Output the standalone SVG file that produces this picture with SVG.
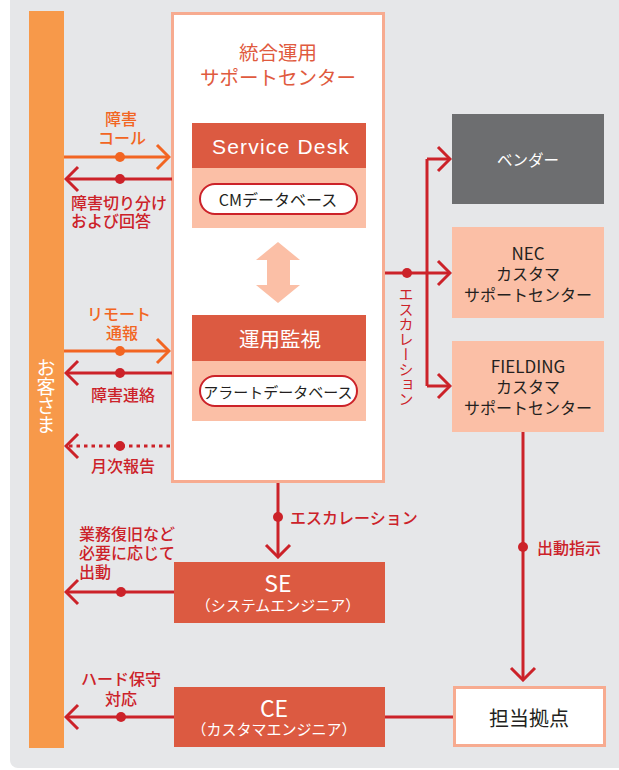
<svg xmlns="http://www.w3.org/2000/svg" width="619" height="770" viewBox="0 0 619 770">
<defs>
<style>
text{font-family:"Noto Sans CJK JP","Noto Sans",sans-serif;font-weight:400;}
.lat{font-family:"Liberation Sans","Noto Sans CJK JP",sans-serif;}
.red{stroke:#cc2229;stroke-width:3;fill:none;}
.org{stroke:#f26522;stroke-width:3;fill:none;}
.dotr{fill:#cc2229;}
.doto{fill:#f26522;}
.lr{fill:#cc2229;font-size:16px;font-weight:500;}
.lo{fill:#f26522;font-size:16px;font-weight:500;}
.dark{fill:#231f20;}
.hdr{fill:#dc5a41;}
.pale{fill:#fbbfa6;}
.pill{fill:#fff;stroke:#cc2229;stroke-width:2;}
.bord{fill:#fff;stroke:#f7ab90;stroke-width:3;}
.c{text-anchor:middle;dominant-baseline:central;}
.l{dominant-baseline:central;}
</style>
<marker id="ar" viewBox="-15 -15 17 30" refX="0" refY="0" markerWidth="17" markerHeight="30" markerUnits="userSpaceOnUse" orient="auto">
<path d="M-12,-12 L0,0 L-12,12" fill="none" stroke="#cc2229" stroke-width="3"/>
</marker>
<marker id="ao" viewBox="-15 -15 17 30" refX="0" refY="0" markerWidth="17" markerHeight="30" markerUnits="userSpaceOnUse" orient="auto">
<path d="M-12,-12 L0,0 L-12,12" fill="none" stroke="#f26522" stroke-width="3"/>
</marker>
</defs>
<rect x="0" y="0" width="619" height="770" fill="#fff"/>
<rect x="10" y="-10" width="620" height="778" rx="8" fill="#e6e7e9"/>

<g id="customer">
<rect x="29" y="11" width="35" height="737" fill="#f7994a"/>
<text x="46" y="358" style="writing-mode:vertical-rl" font-size="19" font-weight="500" fill="#fff">お客さま</text>
</g>

<g id="center">
<rect class="bord" x="172.5" y="13.5" width="211" height="468"/>
<text class="c" x="278" font-size="19.5" font-weight="500" fill="#e05a3e"><tspan x="278" y="51">統合運用</tspan><tspan x="278" y="76">サポートセンター</tspan></text>
</g>

<g id="servicedesk">
<rect class="hdr" x="192" y="123" width="174" height="45"/>
<rect class="pale" x="192" y="168" width="174" height="60"/>
<text class="c lat" x="281" y="146" font-size="21" fill="#fff" letter-spacing="1.2">Service Desk</text>
<rect class="pill" x="200" y="184" width="157" height="30" rx="15"/>
<text class="c dark" x="278" y="199" font-size="16" font-weight="500">CMデータベース</text>
</g>

<polygon class="pale" points="278,242 300,260 290,260 290,285 300,285 278,303 256,285 267,285 267,260 256,260"/>

<g id="monitoring">
<rect class="hdr" x="192" y="315" width="174" height="46"/>
<rect class="pale" x="192" y="361" width="174" height="60"/>
<text class="c" x="280" y="338" font-size="20.5" font-weight="500" fill="#fff">運用監視</text>
<rect class="pill" x="200" y="376" width="157" height="30" rx="15"/>
<text class="c dark" x="278" y="391" font-size="15">アラートデータベース</text>
</g>

<g id="vendor">
<rect x="452" y="114" width="152" height="90" fill="#6d6e70"/>
<text class="c" x="528" y="159" font-size="15.5" fill="#fff">ベンダー</text>
</g>

<g id="nec">
<rect class="pale" x="452" y="227" width="152" height="91"/>
<text class="c dark" font-size="16"><tspan x="528" y="252" font-size="17">NEC</tspan><tspan x="528" y="273">カスタマ</tspan><tspan x="528" y="294">サポートセンター</tspan></text>
</g>

<g id="fielding">
<rect class="pale" x="452" y="341" width="152" height="91"/>
<text class="c dark" font-size="16"><tspan x="528" y="365" font-size="17">FIELDING</tspan><tspan x="528" y="386">カスタマ</tspan><tspan x="528" y="407">サポートセンター</tspan></text>
</g>

<g id="se">
<rect class="hdr" x="174" y="562" width="211" height="61"/>
<text class="c" x="278" y="582" font-size="23" fill="#fff">SE</text>
<text class="c" x="278" y="604" font-size="15" fill="#fff">（システムエンジニア）</text>
</g>

<g id="ce">
<rect class="hdr" x="174" y="687" width="211" height="60"/>
<text class="c" x="274" y="707" font-size="23" fill="#fff">CE</text>
<text class="c" x="274" y="728" font-size="15" fill="#fff">（カスタマエンジニア）</text>
</g>

<g id="base">
<rect class="bord" x="454.5" y="687.5" width="150" height="58"/>
<text class="c dark" x="529" y="717" font-size="20" font-weight="bold">担当拠点</text>
</g>

<g id="connectors">
<path class="org" d="M64,157 H169" marker-end="url(#ao)"/>
<circle class="doto" cx="120" cy="157" r="5"/>
<path class="red" d="M172,179 H66" marker-end="url(#ar)"/>
<circle class="dotr" cx="120" cy="179" r="5"/>
<path class="org" d="M64,351 H169" marker-end="url(#ao)"/>
<circle class="doto" cx="120" cy="351" r="5"/>
<path class="red" d="M172,373 H66" marker-end="url(#ar)"/>
<circle class="dotr" cx="120" cy="373" r="5"/>
<path class="red" d="M170,446 H66" stroke-dasharray="3.5 4" marker-end="url(#ar)"/>
<circle class="dotr" cx="120" cy="446" r="5"/>

<path class="red" d="M385,273 H450" marker-end="url(#ar)"/>
<circle class="dotr" cx="407" cy="273" r="5"/>
<path class="red" d="M427,159 V386"/>
<path class="red" d="M427,159 H450" marker-end="url(#ar)"/>
<path class="red" d="M427,386 H450" marker-end="url(#ar)"/>

<path class="red" d="M278,483 V557" marker-end="url(#ar)"/>
<circle class="dotr" cx="278" cy="517" r="5"/>

<path class="red" d="M523,432 V680" marker-end="url(#ar)"/>
<circle class="dotr" cx="523" cy="547" r="5"/>

<path class="red" d="M174,592 H66" marker-end="url(#ar)"/>
<circle class="dotr" cx="121" cy="592" r="5"/>
<path class="red" d="M453,717 H385"/>
<path class="red" d="M174,717 H66" marker-end="url(#ar)"/>
<circle class="dotr" cx="121" cy="717" r="5"/>
</g>

<g id="labels">
<text class="lo c"><tspan x="121" y="118">障害</tspan><tspan x="122" y="137">コール</tspan></text>
<text class="lr l"><tspan x="71" y="202">障害切り分け</tspan><tspan x="71" y="220">および回答</tspan></text>
<text class="lo c"><tspan x="119" y="313">リモート</tspan><tspan x="122" y="332">通報</tspan></text>
<text class="lr c" x="123" y="394">障害連絡</text>
<text class="lr c" x="123" y="465">月次報告</text>
<text x="406" y="287" style="writing-mode:vertical-rl" font-size="15" fill="#cc2229">エスカレーション</text>
<text class="lr l" x="290" y="517" font-size="15" font-weight="400">エスカレーション</text>
<text class="lr l" x="537" y="547">出動指示</text>
<text class="lr l"><tspan x="79" y="533">業務復旧など</tspan><tspan x="79" y="552">必要に応じて</tspan><tspan x="79" y="571">出動</tspan></text>
<text class="lr c"><tspan x="121" y="678">ハード保守</tspan><tspan x="121" y="698">対応</tspan></text>
</g>
</svg>
